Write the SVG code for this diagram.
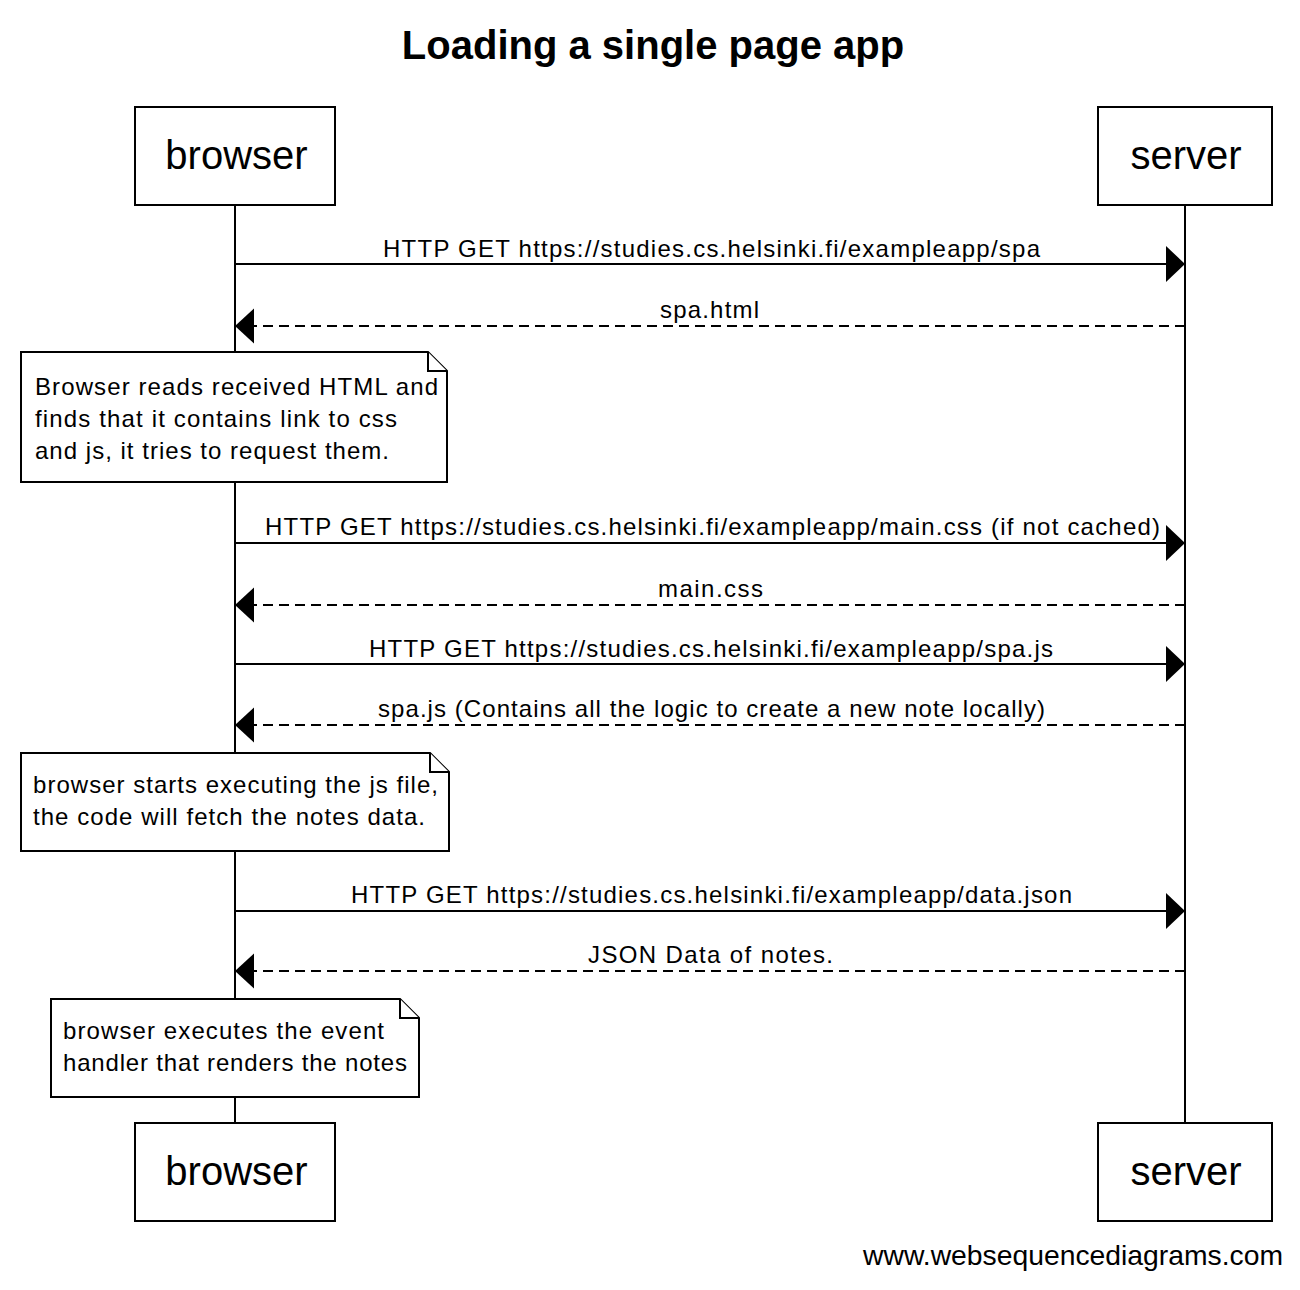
<svg xmlns="http://www.w3.org/2000/svg" width="1300" height="1290" viewBox="0 0 1300 1290">
<style>
text{font-family:"Liberation Sans",Arial,Helvetica,sans-serif;fill:#000}
.title{font-size:40px;font-weight:bold;text-anchor:middle}
.actor rect{fill:#fff;stroke:#000;stroke-width:2}
.actor text{font-size:40px;text-anchor:middle}
.life{stroke:#000;stroke-width:2;fill:none}
.msg{stroke:#000;stroke-width:2;fill:none}
.dash{stroke-dasharray:10 6}
.head{fill:#000;stroke:none}
.lbl{font-size:24px;text-anchor:middle}
.note path{fill:#fff;stroke:#000;stroke-width:2;stroke-linejoin:miter}
.note text{font-size:24px}
.foot{font-size:28.3px;text-anchor:end}
</style>
<rect width="1300" height="1290" fill="#fff"/>
<text class="title" x="653" y="59">Loading a single page app</text>

<g id="lifelines">
<line class="life" x1="235" y1="205" x2="235" y2="1123"/>
<line class="life" x1="1185" y1="205" x2="1185" y2="1123"/>
</g>

<g id="browser-top" class="actor"><rect x="135" y="107" width="200" height="98"/><text x="236.5" y="169">browser</text></g>
<g id="server-top" class="actor"><rect x="1098" y="107" width="174" height="98"/><text x="1186" y="169">server</text></g>
<g id="browser-bottom" class="actor"><rect x="135" y="1123" width="200" height="98"/><text x="236.5" y="1185">browser</text></g>
<g id="server-bottom" class="actor"><rect x="1098" y="1123" width="174" height="98"/><text x="1186" y="1185">server</text></g>

<g id="connectors">
<line class="msg" x1="235" y1="264" x2="1167" y2="264"/>
<polygon class="head" points="1166,246 1185,264 1166,282"/>
<text class="lbl" x="711.5" y="257" textLength="657" lengthAdjust="spacing">HTTP GET https://studies.cs.helsinki.fi/exampleapp/spa</text>

<line class="msg dash" x1="1185" y1="326" x2="253" y2="326"/>
<polygon class="head" points="254,308.5 235,326 254,343.5"/>
<text class="lbl" x="709.5" y="318" textLength="99" lengthAdjust="spacing">spa.html</text>

<line class="msg" x1="235" y1="543" x2="1167" y2="543"/>
<polygon class="head" points="1166,525 1185,543 1166,561"/>
<text class="lbl" x="712.5" y="535" textLength="895" lengthAdjust="spacing">HTTP GET https://studies.cs.helsinki.fi/exampleapp/main.css (if not cached)</text>

<line class="msg dash" x1="1185" y1="605" x2="253" y2="605"/>
<polygon class="head" points="254,587.5 235,605 254,622.5"/>
<text class="lbl" x="710.5" y="597" textLength="105" lengthAdjust="spacing">main.css</text>

<line class="msg" x1="235" y1="664" x2="1167" y2="664"/>
<polygon class="head" points="1166,646 1185,664 1166,682"/>
<text class="lbl" x="711" y="657" textLength="684" lengthAdjust="spacing">HTTP GET https://studies.cs.helsinki.fi/exampleapp/spa.js</text>

<line class="msg dash" x1="1185" y1="725" x2="253" y2="725"/>
<polygon class="head" points="254,707.5 235,725 254,742.5"/>
<text class="lbl" x="711.5" y="717" textLength="667" lengthAdjust="spacing">spa.js (Contains all the logic to create a new note locally)</text>

<line class="msg" x1="235" y1="911" x2="1167" y2="911"/>
<polygon class="head" points="1166,893 1185,911 1166,929"/>
<text class="lbl" x="711.5" y="903" textLength="721" lengthAdjust="spacing">HTTP GET https://studies.cs.helsinki.fi/exampleapp/data.json</text>

<line class="msg dash" x1="1185" y1="971" x2="253" y2="971"/>
<polygon class="head" points="254,953.5 235,971 254,988.5"/>
<text class="lbl" x="710.5" y="963" textLength="245" lengthAdjust="spacing">JSON Data of notes.</text>
</g>

<g id="note1" class="note">
<path d="M21,352 H428 L447,371 V482 H21 Z"/>
<path d="M428,352 V371 H447"/>
<text x="35" y="395" textLength="403" lengthAdjust="spacing">Browser reads received HTML and</text>
<text x="35" y="427" textLength="362" lengthAdjust="spacing">finds that it contains link to css</text>
<text x="35" y="459" textLength="354" lengthAdjust="spacing">and js, it tries to request them.</text>
</g>

<g id="note2" class="note">
<path d="M21,753 H430 L449,772 V851 H21 Z"/>
<path d="M430,753 V772 H449"/>
<text x="33" y="793" textLength="405" lengthAdjust="spacing">browser starts executing the js file,</text>
<text x="33" y="825" textLength="392" lengthAdjust="spacing">the code will fetch the notes data.</text>
</g>

<g id="note3" class="note">
<path d="M51,999 H400 L419,1018 V1097 H51 Z"/>
<path d="M400,999 V1018 H419"/>
<text x="63" y="1039" textLength="321" lengthAdjust="spacing">browser executes the event</text>
<text x="63" y="1071" textLength="344" lengthAdjust="spacing">handler that renders the notes</text>
</g>

<text class="foot" x="1283" y="1265">www.websequencediagrams.com</text>
</svg>
